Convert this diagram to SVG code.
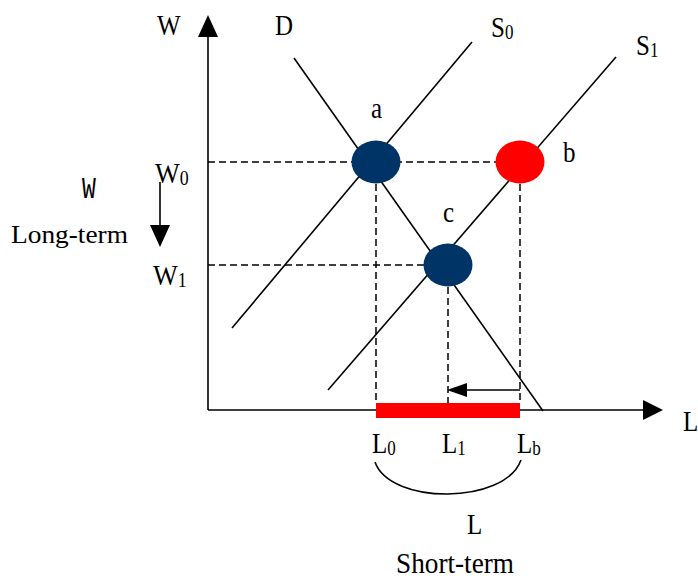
<svg xmlns="http://www.w3.org/2000/svg" width="698" height="578" viewBox="0 0 698 578">
<style>
.ln{stroke:#000;stroke-width:1.6;fill:none}
.dash{stroke:#000;stroke-width:1.5;fill:none;stroke-dasharray:7,4}
.ar{fill:#000}
.t{font-family:"Liberation Serif","Times New Roman",serif;font-size:25px;fill:#000}
.sub{font-size:17px}
.navy{fill:#003366}
.red{fill:#ff0000}
</style>
<rect width="698" height="578" fill="#fff"/>
<g id="axes">
<line class="ln" x1="208" y1="410" x2="208" y2="30"/>
<polygon class="ar" points="198,37 218,37 208,15"/>
<line class="ln" x1="208" y1="410" x2="648" y2="410"/>
<polygon class="ar" points="643,400 643,420 663,410"/>
</g>
<g id="connectors">
<line class="ln" x1="294" y1="58" x2="543" y2="411"/>
<line class="ln" x1="472" y1="42" x2="232" y2="328"/>
<line class="ln" x1="616" y1="57" x2="328" y2="390"/>
<line class="dash" x1="208" y1="162" x2="500" y2="162"/>
<line class="dash" x1="208" y1="265" x2="430" y2="265"/>
<line class="dash" x1="376" y1="162" x2="376" y2="404"/>
<line class="dash" x1="448" y1="265" x2="448" y2="404"/>
<line class="dash" x1="520" y1="162" x2="520" y2="404"/>
<line class="ln" x1="465" y1="390" x2="520" y2="390"/>
<polygon class="ar" points="467,383 467,397 447,390"/>
<line class="ln" x1="160" y1="182" x2="160" y2="228"/>
<polygon class="ar" points="150,225 170,225 160,247"/>
<path class="ln" d="M375,462 C390,505 505,505 521,460"/>
</g>
<g id="bar"><rect class="red" x="376" y="403" width="144" height="15"/></g>
<g id="point-a"><ellipse class="navy" cx="376" cy="162" rx="24.5" ry="21.5"/></g>
<g id="point-b"><ellipse class="red" cx="520" cy="162" rx="24.5" ry="21.5"/></g>
<g id="point-c"><ellipse class="navy" cx="448" cy="265" rx="24.5" ry="21.5"/></g>
<g id="labels">
<text class="t" transform="translate(157,35) scale(1,1.2)">W</text>
<text class="t" transform="translate(275,35) scale(1,1.2)">D</text>
<text class="t" transform="translate(491,37) scale(1,1.2)">S<tspan class="sub" dy="2">0</tspan></text>
<text class="t" transform="translate(636,55) scale(1,1.2)">S<tspan class="sub" dy="2">1</tspan></text>
<text class="t" transform="translate(371,118) scale(1,1.2)">a</text>
<text class="t" transform="translate(563,162) scale(1,1.2)">b</text>
<text class="t" transform="translate(443,222) scale(1,1.2)">c</text>
<text class="t" transform="translate(155,183) scale(1.05,1.2)">W<tspan class="sub" dy="2">0</tspan></text>
<text class="t" transform="translate(153,285) scale(1.05,1.2)">W<tspan class="sub" dy="2">1</tspan></text>
<text class="t" transform="translate(683,431) scale(1,1.2)">L</text>
<text class="t" transform="translate(372,453) scale(1,1.2)">L<tspan class="sub" dy="2">0</tspan></text>
<text class="t" transform="translate(442,453) scale(1,1.2)">L<tspan class="sub" dy="2">1</tspan></text>
<text class="t" transform="translate(517,453) scale(1,1.2)">L<tspan class="sub" dy="2">b</tspan></text>
<text class="t" transform="translate(467,534) scale(1,1.2)">L</text>
<text transform="translate(82,198) scale(1,1.25)" style="font-family:'Liberation Mono','DejaVu Sans Mono',monospace;font-size:23px;fill:#000">W</text>
<text class="t" transform="translate(11,243)" style="font-size:26px" textLength="117" lengthAdjust="spacingAndGlyphs">Long-term</text>
<text class="t" transform="translate(396,573) scale(1,1.08)" style="font-size:27px" textLength="118" lengthAdjust="spacingAndGlyphs">Short-term</text>
</g>
</svg>
